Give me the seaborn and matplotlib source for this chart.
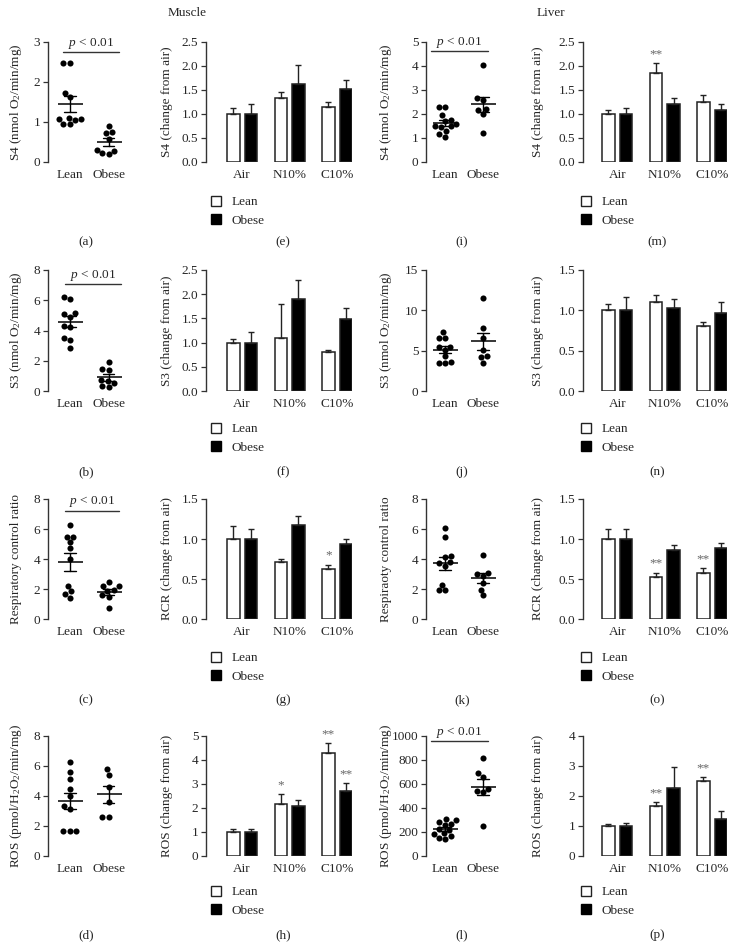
import matplotlib
matplotlib.use("Agg")
import matplotlib.pyplot as plt
from matplotlib.patches import Patch
import numpy as np
import pandas as pd
import seaborn as sns

# ---- individual values (scatter panels) ----
GROUPS = ["Lean", "Obese"]
CONDITIONS = ["Air", "N10%", "C10%"]

a_lean = [2.47, 2.47, 1.72, 1.62, 1.10, 1.08, 1.05, 1.07, 0.95, 0.95]
a_obese = [0.90, 0.74, 0.72, 0.58, 0.30, 0.27, 0.20, 0.22]
b_lean = [6.2, 6.1, 5.15, 5.1, 4.9, 4.3, 4.2, 3.5, 3.4, 2.85]
b_obese = [1.95, 1.45, 1.4, 0.75, 0.65, 0.5, 0.3, 0.25]
c_lean = [6.27, 5.5, 5.5, 5.13, 4.72, 4.0, 2.2, 1.84, 1.66, 1.4]
c_obese = [2.5, 2.2, 2.2, 1.95, 1.9, 1.6, 1.5, 0.73]
d_lean = [6.25, 5.6, 5.15, 4.46, 4.02, 3.36, 3.16, 1.66, 1.66, 1.66]
d_obese = [5.81, 5.41, 4.6, 3.58, 2.61, 2.61]

i_lean = [2.3, 2.28, 1.95, 1.75, 1.72, 1.6, 1.5, 1.48, 1.45, 1.3, 1.15, 1.05]
i_obese = [4.03, 2.65, 2.6, 2.2, 2.15, 1.98, 1.2]
j_lean = [7.3, 6.6, 6.6, 5.5, 5.4, 5.1, 4.3, 3.6, 3.5, 3.5]
j_obese = [11.5, 7.8, 6.6, 5.1, 4.4, 4.2, 3.5]
k_lean = [6.05, 5.45, 4.2, 4.15, 3.8, 3.75, 3.55, 2.3, 1.95, 1.95]
k_obese = [4.25, 3.1, 3.0, 2.85, 2.4, 1.95, 1.57]
l_lean = [310, 300, 285, 270, 260, 225, 215, 190, 180, 165, 150, 140]
l_obese = [820, 690, 655, 560, 540, 530, 250]

# ---- fold change from air (bar panels): mean and SEM ----
e_lean = [1.0, 1.34, 1.14]
e_lean_err = [0.13, 0.11, 0.10]
e_obese = [1.0, 1.62, 1.52]
e_obese_err = [0.21, 0.41, 0.19]
f_lean = [1.0, 1.10, 0.80]
f_lean_err = [0.08, 0.70, 0.04]
f_obese = [1.0, 1.90, 1.49]
f_obese_err = [0.22, 0.39, 0.23]
g_lean = [1.0, 0.71, 0.62]
g_lean_err = [0.16, 0.04, 0.06]
g_obese = [1.0, 1.18, 0.94]
g_obese_err = [0.12, 0.11, 0.06]
h_lean = [1.0, 2.15, 4.28]
h_lean_err = [0.13, 0.44, 0.42]
h_obese = [1.0, 2.08, 2.72]
h_obese_err = [0.11, 0.24, 0.32]

m_lean = [1.0, 1.86, 1.26]
m_lean_err = [0.08, 0.20, 0.13]
m_obese = [1.0, 1.20, 1.09]
m_obese_err = [0.13, 0.13, 0.12]
n_lean = [1.0, 1.10, 0.81]
n_lean_err = [0.08, 0.09, 0.05]
n_obese = [1.0, 1.03, 0.97]
n_obese_err = [0.16, 0.11, 0.13]
o_lean = [1.0, 0.53, 0.58]
o_lean_err = [0.12, 0.05, 0.06]
o_obese = [1.0, 0.86, 0.89]
o_obese_err = [0.12, 0.07, 0.06]
p_lean = [1.0, 1.68, 2.50]
p_lean_err = [0.08, 0.11, 0.12]
p_obese = [1.0, 2.28, 1.25]
p_obese_err = [0.10, 0.70, 0.24]

# significance marks: (group, condition, text)
g_stars = [("Lean", "C10%", "*")]
h_stars = [("Lean", "N10%", "*"), ("Lean", "C10%", "**"), ("Obese", "C10%", "**")]
m_stars = [("Lean", "N10%", "**")]
o_stars = [("Lean", "N10%", "**"), ("Lean", "C10%", "**")]
p_stars = [("Lean", "N10%", "**"), ("Lean", "C10%", "**")]

sns.set_style("ticks")
plt.rcParams["font.family"] = ["Liberation Serif", "DejaVu Serif"]
plt.rcParams["mathtext.fontset"] = "custom"
plt.rcParams["mathtext.rm"] = "Liberation Serif"
plt.rcParams["mathtext.it"] = "Liberation Serif:italic"
plt.rcParams["font.size"] = 9.5

W, H = 736, 951
fig = plt.figure(figsize=(W / 100, H / 100), dpi=100)

ROWS = [(42, 162), (270, 391), (499, 619), (736, 856)]
LABEL_Y = [242, 472, 700, 935]
LEGEND_TOP = [196, 423, 652, 886]


def px_axes(left, top, right, bottom):
    return fig.add_axes([left / W, 1 - bottom / H, (right - left) / W, (bottom - top) / H])


def style_axes(ax, ylabel, label_x, row):
    sns.despine(ax=ax, bottom=True)
    ax.spines["left"].set_linewidth(1.0)
    ax.spines["left"].set_color("#333333")
    ax.tick_params(axis="y", labelsize=9.5, length=3.5, width=0.9, pad=2, color="#333333")
    ax.tick_params(axis="x", labelsize=9.5, length=0, pad=5)
    ax.set_xlabel("")
    ax.set_ylabel(ylabel, fontsize=9.5, va="center")
    top, bottom = ROWS[row]
    ax.yaxis.set_label_coords(label_x / W, 1 - (top + bottom) / 2 / H, transform=fig.transFigure)


def scatter_panel(ax, lean, obese, ylim, yticks, ylabel, label_x, row, pline=None):
    df = pd.DataFrame({
        "group": ["Lean"] * len(lean) + ["Obese"] * len(obese),
        "value": lean + obese,
    })
    sns.swarmplot(data=df, x="group", y="value", order=GROUPS, color="black",
                  size=4.4, ax=ax)
    sns.pointplot(data=df, x="group", y="value", order=GROUPS, errorbar="se",
                  capsize=0.3, color="black", linestyle="none", marker="_",
                  markersize=18, markeredgewidth=1.1, err_kws={"linewidth": 1.0}, ax=ax)
    ax.set_ylim(*ylim)
    ax.set_yticks(yticks)
    if pline is not None:
        x0, x1, y = pline
        ax.plot([x0, x1], [y, y], color="#333333", lw=1.0, clip_on=False)
        ax.annotate("$p$ < 0.01", xy=((x0 + x1) / 2, y), xytext=(0, 1),
                    textcoords="offset points", ha="center", va="bottom", fontsize=9.5)
    style_axes(ax, ylabel, label_x, row)


def bar_panel(ax, lean, lean_err, obese, obese_err, ylim, yticks, fmt, ylabel,
              label_x, row, legend_x, stars=()):
    df = pd.DataFrame({
        "condition": CONDITIONS * 2,
        "group": ["Lean"] * 3 + ["Obese"] * 3,
        "value": lean + obese,
        "err": lean_err + obese_err,
    })
    sns.barplot(data=df, x="condition", y="value", hue="group", order=CONDITIONS,
                hue_order=GROUPS, palette={"Lean": "white", "Obese": "black"},
                edgecolor="#222222", linewidth=1.1, width=0.74, gap=0.29,
                errorbar=None, legend=False, ax=ax)
    tops = {}
    for grp, container in zip(GROUPS, ax.containers):
        sub = df[df["group"] == grp]
        xs = [b.get_x() + b.get_width() / 2 for b in container]
        ax.errorbar(xs, sub["value"], yerr=[np.zeros(3), sub["err"]], fmt="none",
                    ecolor="#222222", elinewidth=1.0, capsize=2.5, capthick=1.0)
        for x, cond, v, e in zip(xs, sub["condition"], sub["value"], sub["err"]):
            tops[(grp, cond)] = (x, v + e)
    for grp, cond, txt in stars:
        x, y = tops[(grp, cond)]
        ax.annotate(txt, xy=(x, y), xytext=(0, 2), textcoords="offset points",
                    ha="center", va="bottom", fontsize=9.5, color="#666666")
    ax.set_ylim(*ylim)
    ax.set_yticks(yticks)
    ax.set_yticklabels([fmt.format(t) for t in yticks])
    style_axes(ax, ylabel, label_x, row)
    handles = [Patch(facecolor="white", edgecolor="#222222", linewidth=1.0),
               Patch(facecolor="black", edgecolor="black")]
    fig.legend(handles, GROUPS, loc="upper left",
               bbox_to_anchor=(legend_x / W, 1 - LEGEND_TOP[row] / H),
               frameon=False, fontsize=9.5, handlelength=0.75, handleheight=0.75,
               handletextpad=0.8, labelspacing=0.45, borderpad=0, borderaxespad=0)


# column 1: muscle, individual values
scatter_specs = [
    (a_lean, a_obese, (0, 3), [0, 1, 2, 3], "S4 (nmol O$_2$/min/mg)", (-0.18, 1.28, 2.75)),
    (b_lean, b_obese, (0, 8), [0, 2, 4, 6, 8], "S3 (nmol O$_2$/min/mg)", (-0.13, 1.31, 7.05)),
    (c_lean, c_obese, (0, 8), [0, 2, 4, 6, 8], "Respiratory control ratio", (-0.13, 1.28, 7.23)),
    (d_lean, d_obese, (0, 8), [0, 2, 4, 6, 8], "ROS (pmol/H$_2$O$_2$/min/mg)", None),
]
for row, (lean, obese, ylim, yticks, ylabel, pline) in enumerate(scatter_specs):
    top, bottom = ROWS[row]
    ax = px_axes(48, top, 128, bottom)
    scatter_panel(ax, lean, obese, ylim, yticks, ylabel, 16, row, pline)
    ax.set_xlim(-0.56, 1.5)

# column 3: liver, individual values
liver_specs = [
    (i_lean, i_obese, (0, 5), [0, 1, 2, 3, 4, 5], "S4 (nmol O$_2$/min/mg)", (-0.37, 1.13, 4.61)),
    (j_lean, j_obese, (0, 15), [0, 5, 10, 15], "S3 (nmol O$_2$/min/mg)", None),
    (k_lean, k_obese, (0, 8), [0, 2, 4, 6, 8], "Respiraoty control ratio", None),
    (l_lean, l_obese, (0, 1000), [0, 200, 400, 600, 800, 1000], "ROS (pmol/H$_2$O$_2$/min/mg)",
     (-0.37, 1.13, 958)),
]
for row, (lean, obese, ylim, yticks, ylabel, pline) in enumerate(liver_specs):
    top, bottom = ROWS[row]
    ax = px_axes(426, top, 502, bottom)
    scatter_panel(ax, lean, obese, ylim, yticks, ylabel, 386, row, pline)
    ax.set_xlim(-0.5, 1.5)

# column 2: muscle, change from air
muscle_bars = [
    (e_lean, e_lean_err, e_obese, e_obese_err, (0, 2.5), [0, 0.5, 1, 1.5, 2, 2.5], "{:.1f}",
     "S4 (change from air)", ()),
    (f_lean, f_lean_err, f_obese, f_obese_err, (0, 2.5), [0, 0.5, 1, 1.5, 2, 2.5], "{:.1f}",
     "S3 (change from air)", ()),
    (g_lean, g_lean_err, g_obese, g_obese_err, (0, 1.5), [0, 0.5, 1, 1.5], "{:.1f}",
     "RCR (change from air)", g_stars),
    (h_lean, h_lean_err, h_obese, h_obese_err, (0, 5), [0, 1, 2, 3, 4, 5], "{:.0f}",
     "ROS (change from air)", h_stars),
]
for row, (ln, le, ob, oe, ylim, yticks, fmt, ylabel, stars) in enumerate(muscle_bars):
    top, bottom = ROWS[row]
    ax = px_axes(206, top, 352, bottom)
    bar_panel(ax, ln, le, ob, oe, ylim, yticks, fmt, ylabel, 167, row, 211, stars)
    ax.set_xlim(-0.76, 2.31)

# column 4: liver, change from air
liver_bars = [
    (m_lean, m_lean_err, m_obese, m_obese_err, (0, 2.5), [0, 0.5, 1, 1.5, 2, 2.5], "{:.1f}",
     "S4 (change from air)", m_stars),
    (n_lean, n_lean_err, n_obese, n_obese_err, (0, 1.5), [0, 0.5, 1, 1.5], "{:.1f}",
     "S3 (change from air)", ()),
    (o_lean, o_lean_err, o_obese, o_obese_err, (0, 1.5), [0, 0.5, 1, 1.5], "{:.1f}",
     "RCR (change from air)", o_stars),
    (p_lean, p_lean_err, p_obese, p_obese_err, (0, 4), [0, 1, 2, 3, 4], "{:.0f}",
     "ROS (change from air)", p_stars),
]
for row, (ln, le, ob, oe, ylim, yticks, fmt, ylabel, stars) in enumerate(liver_bars):
    top, bottom = ROWS[row]
    ax = px_axes(583, top, 727, bottom)
    bar_panel(ax, ln, le, ob, oe, ylim, yticks, fmt, ylabel, 538, row, 581, stars)
    ax.set_xlim(-0.72, 2.31)

# panel letters and column titles
letters = ["abcd", "efgh", "ijkl", "mnop"]
col_centers = [86, 283, 462, 657]
for cx, col in zip(col_centers, letters):
    for ly, letter in zip(LABEL_Y, col):
        fig.text(cx / W, 1 - ly / H, f"({letter})", ha="center", va="center", fontsize=9.5)
fig.text(187 / W, 1 - 13 / H, "Muscle", ha="center", va="center", fontsize=9.5)
fig.text(551 / W, 1 - 13 / H, "Liver", ha="center", va="center", fontsize=9.5)

fig.savefig("out.png", dpi=100)
